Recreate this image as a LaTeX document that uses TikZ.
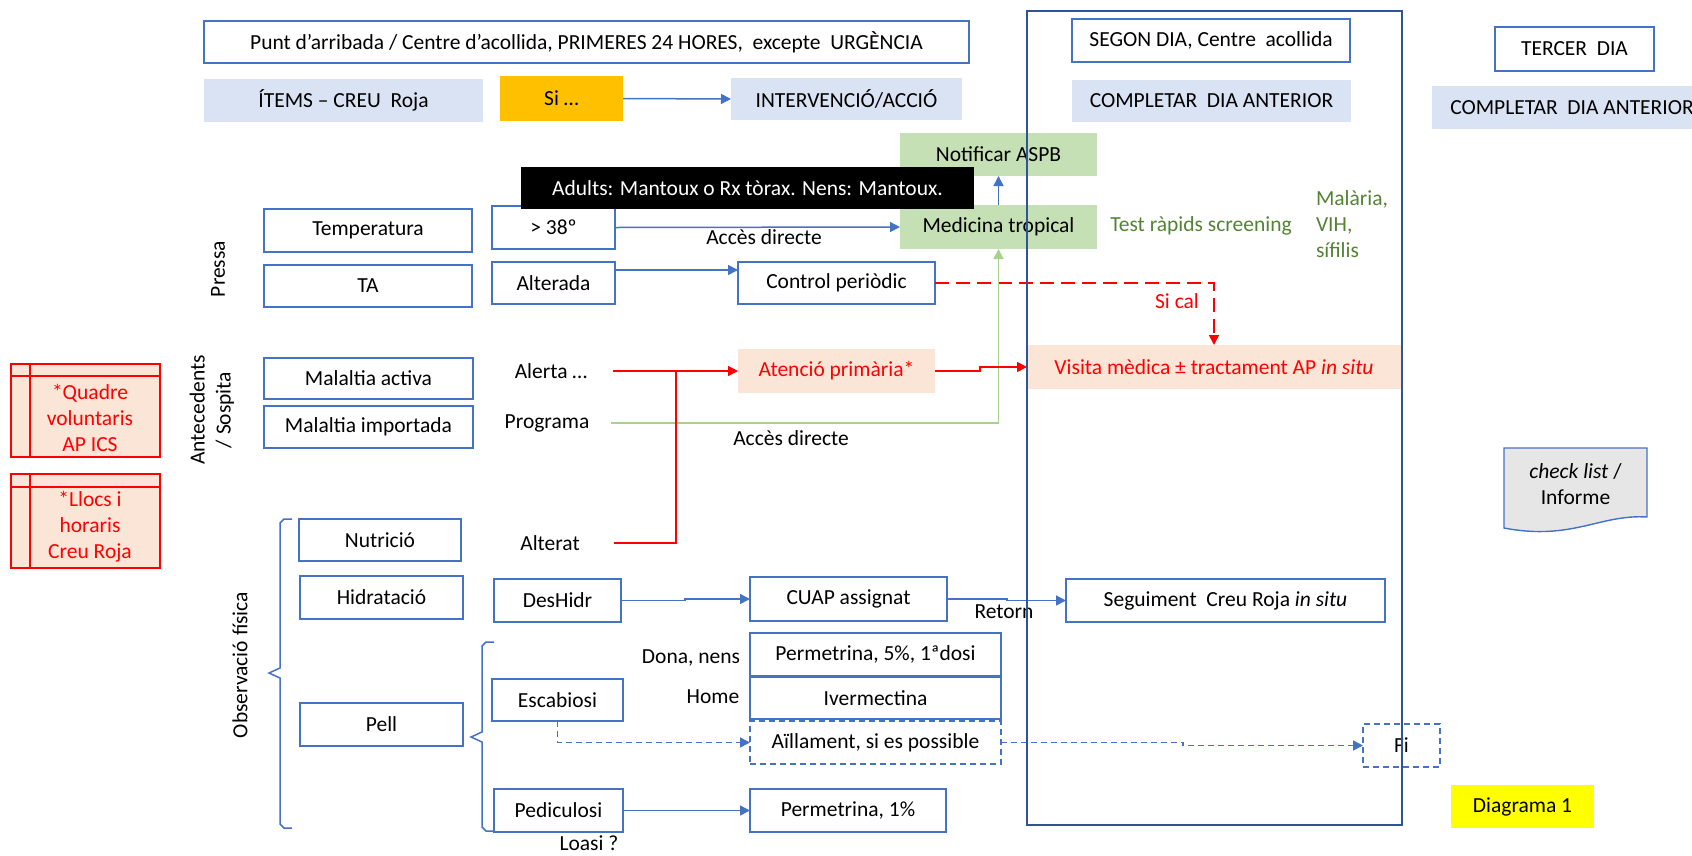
\documentclass[tikz,border=0pt]{standalone}
\usepackage{fontspec}
\setmainfont{Carlito}
\usetikzlibrary{arrows.meta,calc}
\definecolor{bblue}{HTML}{4472C4}
\definecolor{frameblue}{HTML}{2F5597}
\definecolor{lblue}{HTML}{DAE3F3}
\definecolor{lgreen}{HTML}{C5E0B4}
\definecolor{peach}{HTML}{FBE5D6}
\definecolor{orangeY}{HTML}{FFC000}
\definecolor{dgreen}{HTML}{548235}
\definecolor{mgreen}{HTML}{A9D18E}
\definecolor{lgray}{HTML}{E7E6E6}
\definecolor{pred}{HTML}{FF0000}
\definecolor{yel}{HTML}{FFFF00}
\begin{document}
\begin{tikzpicture}[x=1pt,y=-1pt,
  every node/.style={font=\fontsize{21.5}{26}\selectfont, inner sep=0pt, outer sep=0pt},
  bx/.style={draw=bblue, line width=1.6pt, fill=white},
  dbx/.style={draw=bblue, line width=1.5pt, dash pattern=on 6pt off 4pt, fill=white},
  flat/.style={fill=#1},
  tip/.style={-{Triangle[length=10pt,width=10pt]}},
  arr/.style={draw=bblue, line width=1.5pt, tip},
  arrdash/.style={draw=bblue, line width=1.5pt, dash pattern=on 6pt off 4pt, tip},
  redarr/.style={draw=pred, line width=1.6pt, tip},
  redline/.style={draw=pred, line width=1.6pt},
  reddash/.style={draw=pred, line width=1.6pt, dash pattern=on 14pt off 7pt, tip},
  greenarr/.style={draw=mgreen, line width=1.4pt, tip},
  brace/.style={draw=bblue, line width=1.5pt},
  redbox/.style={draw=pred, line width=1.4pt, fill=peach},
]
\useasboundingbox (0,0) rectangle (1692,855);
\clip (0,0) rectangle (1692,855);

% top row
\node[bx, minimum width=765, minimum height=42] (punt) at (586.5,42) {Punt d’arribada / Centre d’acollida, PRIMERES 24 HORES,\ \ excepte\ \ URGÈNCIA};
\node[flat=lblue, minimum width=279, minimum height=43] (items) at (343.5,100.5) {ÍTEMS – CREU\ \ Roja};
\node[flat=orangeY, minimum width=123, minimum height=45] (si) at (561.5,98.5) {Si …};
\node[flat=lblue, minimum width=231, minimum height=42] (interv) at (846.5,99) {INTERVENCIÓ/ACCIÓ};

\node[bx, minimum width=278, minimum height=43] (segon) at (1211,40.5) {SEGON DIA, Centre\ \ acollida};
\node[flat=lblue, minimum width=279, minimum height=42] (comp2) at (1211.5,101) {COMPLETAR\ \ DIA ANTERIOR};
\node[bx, minimum width=159, minimum height=44] (tercer) at (1574.5,49) {TERCER\ \ DIA};
\node[flat=lblue, minimum width=280, minimum height=43] (comp3) at (1572,107.5) {COMPLETAR\ \ DIA ANTERIOR};

% green
\node[flat=lgreen, minimum width=197, minimum height=43] (notif) at (998.5,154.5) {Notificar ASPB};
\node[flat=lgreen, minimum width=197, minimum height=44] (med) at (998.5,227) {Medicina tropical};
\node[text=dgreen] (test) at (1201,226) {Test ràpids screening};
\node[text=dgreen, align=left, anchor=west] (mal) at (1316,224) {Malària,\\VIH,\\sífilis};

% Pressa
\node[rotate=90] (pressa) at (218,269) {Pressa};
\node[bx, minimum width=208, minimum height=43] (temp) at (368,230.5) {Temperatura};
\node[bx, minimum width=208, minimum height=42] (ta) at (368,286) {TA};
\node[bx, minimum width=123, minimum height=43] (gt38) at (553.5,227.5) {> 38º};
\node[bx, minimum width=123, minimum height=42] (alter) at (553.5,283) {Alterada};
\node[bx, minimum width=197, minimum height=42] (ctrl) at (836.5,283) {Control periòdic};
\node[fill=black, text=white, minimum width=453, minimum height=42] (black) at (747.5,188) {Adults: Mantoux o Rx tòrax. Nens: Mantoux.};
\node (acces1) at (764,237) {Accès directe};

% side boxes
\node[redbox, minimum width=149, minimum height=93] (quadre) at (85.5,410.5) {};
\draw[pred, line width=1.4pt] (11,376) -- (160,376) (30,364) -- (30,457);
\node[text=pred, align=center] (quadreT) at (90,417.5) {*Quadre\\voluntaris\\AP ICS};
\node[redbox, minimum width=149, minimum height=94] (llocs) at (85.5,521) {};
\draw[pred, line width=1.4pt] (11,487) -- (160,487) (30,474) -- (30,568);
\node[text=pred, align=center] (llocsT) at (90,527) {*Llocs i\\horaris\\Creu Roja};

% antecedents
\node[rotate=90, align=center] (antec) at (212,410) {Antecedents\\/ Sospita};
\node[bx, minimum width=209, minimum height=41] (mact) at (368.5,378.5) {Malaltia activa};
\node[bx, minimum width=209, minimum height=42] (mimp) at (368.5,427) {Malaltia importada};
\node (alerta) at (551,371) {Alerta …};
\node (prog) at (547,423) {Programa};
\coordinate (alertaEnd) at (613,371);
\coordinate (progEnd) at (611,423);
\node[flat=peach, text=pred, minimum width=197, minimum height=44] (aten) at (836.5,371) {Atenció primària*};
\node[flat=peach, text=pred, minimum width=374, minimum height=44] (visita) at (1214,367) {Visita mèdica ± tractament AP \textit{in situ}};
\node (acces2) at (791,438) {Accès directe};
\node[text=pred] (sical) at (1177,301) {Si cal};

% check list
\draw[bblue, fill=lgray, line width=1.4pt] (1504,448) -- (1647,448) -- (1647,517) .. controls (1600,514) and (1572,541) .. (1504,528) -- cycle;
\node[align=center] (check) at (1575.5,484) {\textit{check list} /\\Informe};

% observacio fisica
\node[rotate=90] (obs) at (240,665) {Observació física};
\draw[brace] (292,519) -- (284,519) -- (280,523) -- (280,668) -- (269,673) -- (280,678) -- (280,824) -- (284,828) -- (292,828);
\node[bx, minimum width=162, minimum height=42] (nutr) at (380,540) {Nutrició};
\node (alterat) at (550,543) {Alterat};
\coordinate (alteratEnd) at (614,543);
\coordinate (junc) at (676,371);
\node[bx, minimum width=163, minimum height=43] (hidr) at (381.5,597.5) {Hidratació};
\node[bx, minimum width=127, minimum height=43] (deshidr) at (557.5,600.5) {DesHidr};
\node[bx, minimum width=197, minimum height=44] (cuap) at (848.5,599) {CUAP assignat};
\node (retorn) at (1004,612) {Retorn};
\node[bx, minimum width=319, minimum height=43] (seg) at (1225.5,600.5) {Seguiment\ \ Creu Roja \textit{in situ}};
\node[bx, minimum width=163, minimum height=43] (pell) at (381.5,724.5) {Pell};
\draw[brace] (494,642) -- (486,642) -- (482,646) -- (482,732) -- (471,737) -- (482,742) -- (482,827) -- (486,831) -- (494,831);
\node[bx, minimum width=131, minimum height=42] (esc) at (557.5,700) {Escabiosi};
\node[bx, minimum width=129, minimum height=43] (ped) at (558.5,810.5) {Pediculosi};
\node (loasi) at (589,843) {Loasi ?};
\node (dona) at (691,658) {Dona, nens};
\node (home) at (713,697) {Home};
\node[bx, minimum width=251, minimum height=43] (perm5) at (875.5,654.5) {Permetrina, 5\%, 1ªdosi};
\node[bx, minimum width=251, minimum height=42] (iver) at (875.5,698) {Ivermectina};
\node[dbx, minimum width=251, minimum height=43] (aill) at (875.5,742.5) {Aïllament, si es possible};
\node[bx, minimum width=196, minimum height=43] (perm1) at (848,810.5) {Permetrina, 1\%};
\node[dbx, minimum width=77, minimum height=43] (fi) at (1401.5,745.5) {Fi};
\node[flat=yel, minimum width=143, minimum height=43] (diag) at (1522.5,806.5) {Diagrama 1};

% connectors
\draw[arr] (si.east) -- (interv.west);
\draw[arr] (gt38.east) -- (med.west);
\draw[arr] (med) -- (notif);
\draw[arr] ([yshift=13pt]alter.east) -- ([yshift=13pt]ctrl.west);
\draw[reddash] (ctrl.east) -| (visita.north);
\draw[greenarr] (progEnd) -| (med.south);
\draw[redline] (alteratEnd) -| (junc);
\draw[redarr] (alertaEnd) -- (aten.west);
\draw[redarr] (aten.east) -- ++(45,0) |- (visita.west);
\draw[arr] (deshidr.east) -- ++(64,0) |- (cuap.west);
\draw[arr] (cuap.east) -- ++(60,0) |- (seg.west);
\draw[arr] (ped.east) -- (perm1.west);
\draw[arrdash] (esc.south) |- (aill.west);
\draw[arrdash] (aill.east) -- ++(182,0) |- (fi.west);

% frame on top
\node[draw=frameblue, line width=1.5pt, minimum width=375, minimum height=814] (frame) at (1214.5,418) {};
\end{tikzpicture}
\end{document}
